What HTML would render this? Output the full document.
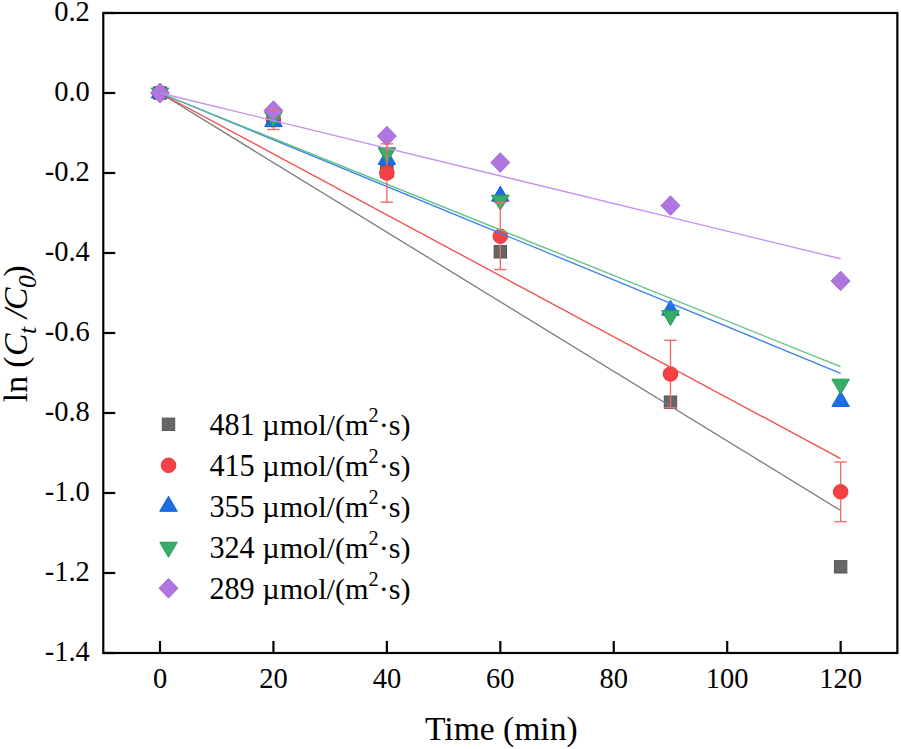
<!DOCTYPE html>
<html><head><meta charset="utf-8"><style>
html,body{margin:0;padding:0;background:#fff;}
svg{display:block;}
text{font-family:"Liberation Serif",serif;fill:#000;}
.tk{font-size:28.5px;}
.lg{font-size:30.2px;}
.ti{font-size:33.6px;}
</style></head><body>
<svg width="901" height="749" viewBox="0 0 901 749">
<rect width="901" height="749" fill="#fff"/>
<rect x="153.80" y="86.80" width="12.40" height="12.40" fill="#666666" stroke="#555555" stroke-width="1.0"/>
<rect x="267.24" y="112.80" width="12.40" height="12.40" fill="#666666" stroke="#555555" stroke-width="1.0"/>
<rect x="380.68" y="165.40" width="12.40" height="12.40" fill="#666666" stroke="#555555" stroke-width="1.0"/>
<rect x="494.12" y="245.60" width="12.40" height="12.40" fill="#666666" stroke="#555555" stroke-width="1.0"/>
<rect x="664.28" y="396.00" width="12.40" height="12.40" fill="#666666" stroke="#555555" stroke-width="1.0"/>
<rect x="834.44" y="560.60" width="12.40" height="12.40" fill="#666666" stroke="#555555" stroke-width="1.0"/>
<circle cx="160.00" cy="93.00" r="7.3" fill="#F24246" stroke="#EE3338" stroke-width="1.0"/>
<circle cx="273.44" cy="119.76" r="7.3" fill="#F24246" stroke="#EE3338" stroke-width="1.0"/>
<circle cx="386.88" cy="173.00" r="7.3" fill="#F24246" stroke="#EE3338" stroke-width="1.0"/>
<circle cx="500.32" cy="236.20" r="7.3" fill="#F24246" stroke="#EE3338" stroke-width="1.0"/>
<circle cx="670.48" cy="374.00" r="7.3" fill="#F24246" stroke="#EE3338" stroke-width="1.0"/>
<circle cx="840.64" cy="491.80" r="7.3" fill="#F24246" stroke="#EE3338" stroke-width="1.0"/>
<polygon points="160.00,83.00 168.75,98.00 151.25,98.00" fill="#1E6EE1" stroke="#0A60E0" stroke-width="1.0" stroke-linejoin="miter"/>
<polygon points="273.44,111.60 282.19,126.60 264.69,126.60" fill="#1E6EE1" stroke="#0A60E0" stroke-width="1.0" stroke-linejoin="miter"/>
<polygon points="386.88,149.40 395.63,164.40 378.13,164.40" fill="#1E6EE1" stroke="#0A60E0" stroke-width="1.0" stroke-linejoin="miter"/>
<polygon points="500.32,186.20 509.07,201.20 491.57,201.20" fill="#1E6EE1" stroke="#0A60E0" stroke-width="1.0" stroke-linejoin="miter"/>
<polygon points="670.48,300.20 679.23,315.20 661.73,315.20" fill="#1E6EE1" stroke="#0A60E0" stroke-width="1.0" stroke-linejoin="miter"/>
<polygon points="840.64,391.40 849.39,406.40 831.89,406.40" fill="#1E6EE1" stroke="#0A60E0" stroke-width="1.0" stroke-linejoin="miter"/>
<polygon points="160.00,103.00 168.75,88.00 151.25,88.00" fill="#3AAC6A" stroke="#18A052" stroke-width="1.0"/>
<polygon points="273.44,127.00 282.19,112.00 264.69,112.00" fill="#3AAC6A" stroke="#18A052" stroke-width="1.0"/>
<polygon points="386.88,162.80 395.63,147.80 378.13,147.80" fill="#3AAC6A" stroke="#18A052" stroke-width="1.0"/>
<polygon points="500.32,210.20 509.07,195.20 491.57,195.20" fill="#3AAC6A" stroke="#18A052" stroke-width="1.0"/>
<polygon points="670.48,325.60 679.23,310.60 661.73,310.60" fill="#3AAC6A" stroke="#18A052" stroke-width="1.0"/>
<polygon points="840.64,394.20 849.39,379.20 831.89,379.20" fill="#3AAC6A" stroke="#18A052" stroke-width="1.0"/>
<polygon points="160.00,83.25 169.50,93.00 160.00,102.75 150.50,93.00" fill="#AE76DE" stroke="#A566DC" stroke-width="1.0"/>
<polygon points="273.44,100.85 282.94,110.60 273.44,120.35 263.94,110.60" fill="#AE76DE" stroke="#A566DC" stroke-width="1.0"/>
<polygon points="386.88,126.37 396.38,136.12 386.88,145.87 377.38,136.12" fill="#AE76DE" stroke="#A566DC" stroke-width="1.0"/>
<polygon points="500.32,152.77 509.82,162.52 500.32,172.27 490.82,162.52" fill="#AE76DE" stroke="#A566DC" stroke-width="1.0"/>
<polygon points="670.48,195.85 679.98,205.60 670.48,215.35 660.98,205.60" fill="#AE76DE" stroke="#A566DC" stroke-width="1.0"/>
<polygon points="840.64,271.17 850.14,280.92 840.64,290.67 831.14,280.92" fill="#AE76DE" stroke="#A566DC" stroke-width="1.0"/>
<line x1="160.00" y1="93.00" x2="840.64" y2="510.50" stroke="#7a7a7a" stroke-width="1.3"/>
<line x1="160.00" y1="93.00" x2="840.64" y2="458.60" stroke="#F24A4A" stroke-width="1.3"/>
<line x1="160.00" y1="93.00" x2="840.64" y2="373.40" stroke="#3C82EE" stroke-width="1.3"/>
<line x1="160.00" y1="93.00" x2="840.64" y2="366.70" stroke="#5CC080" stroke-width="1.3"/>
<line x1="160.00" y1="93.00" x2="840.64" y2="258.75" stroke="#C490F0" stroke-width="1.3"/>
<line x1="273.44" y1="110.00" x2="273.44" y2="112.11" stroke="#F36A6A" stroke-width="1.4"/>
<line x1="273.44" y1="127.41" x2="273.44" y2="129.52" stroke="#F36A6A" stroke-width="1.4"/>
<line x1="267.24" y1="110.00" x2="279.64" y2="110.00" stroke="#F36A6A" stroke-width="1.4"/>
<line x1="267.24" y1="129.52" x2="279.64" y2="129.52" stroke="#F36A6A" stroke-width="1.4"/>
<line x1="386.88" y1="143.84" x2="386.88" y2="165.35" stroke="#F36A6A" stroke-width="1.4"/>
<line x1="386.88" y1="180.65" x2="386.88" y2="202.16" stroke="#F36A6A" stroke-width="1.4"/>
<line x1="380.68" y1="143.84" x2="393.08" y2="143.84" stroke="#F36A6A" stroke-width="1.4"/>
<line x1="380.68" y1="202.16" x2="393.08" y2="202.16" stroke="#F36A6A" stroke-width="1.4"/>
<line x1="500.32" y1="202.80" x2="500.32" y2="228.55" stroke="#F36A6A" stroke-width="1.4"/>
<line x1="500.32" y1="243.85" x2="500.32" y2="269.60" stroke="#F36A6A" stroke-width="1.4"/>
<line x1="494.12" y1="202.80" x2="506.52" y2="202.80" stroke="#F36A6A" stroke-width="1.4"/>
<line x1="494.12" y1="269.60" x2="506.52" y2="269.60" stroke="#F36A6A" stroke-width="1.4"/>
<line x1="670.48" y1="340.32" x2="670.48" y2="366.35" stroke="#F36A6A" stroke-width="1.4"/>
<line x1="670.48" y1="381.65" x2="670.48" y2="407.68" stroke="#F36A6A" stroke-width="1.4"/>
<line x1="664.28" y1="340.32" x2="676.68" y2="340.32" stroke="#F36A6A" stroke-width="1.4"/>
<line x1="664.28" y1="407.68" x2="676.68" y2="407.68" stroke="#F36A6A" stroke-width="1.4"/>
<line x1="840.64" y1="462.00" x2="840.64" y2="484.15" stroke="#F36A6A" stroke-width="1.4"/>
<line x1="840.64" y1="499.45" x2="840.64" y2="521.60" stroke="#F36A6A" stroke-width="1.4"/>
<line x1="834.44" y1="462.00" x2="846.84" y2="462.00" stroke="#F36A6A" stroke-width="1.4"/>
<line x1="834.44" y1="521.60" x2="846.84" y2="521.60" stroke="#F36A6A" stroke-width="1.4"/>
<rect x="103.28" y="13.00" width="794.08" height="640.00" fill="none" stroke="#000" stroke-width="2.2"/>
<line x1="160.00" y1="653.00" x2="160.00" y2="641.00" stroke="#000" stroke-width="2.2"/>
<text x="160.00" y="688.20" text-anchor="middle" class="tk">0</text>
<line x1="273.44" y1="653.00" x2="273.44" y2="641.00" stroke="#000" stroke-width="2.2"/>
<text x="273.44" y="688.20" text-anchor="middle" class="tk">20</text>
<line x1="386.88" y1="653.00" x2="386.88" y2="641.00" stroke="#000" stroke-width="2.2"/>
<text x="386.88" y="688.20" text-anchor="middle" class="tk">40</text>
<line x1="500.32" y1="653.00" x2="500.32" y2="641.00" stroke="#000" stroke-width="2.2"/>
<text x="500.32" y="688.20" text-anchor="middle" class="tk">60</text>
<line x1="613.76" y1="653.00" x2="613.76" y2="641.00" stroke="#000" stroke-width="2.2"/>
<text x="613.76" y="688.20" text-anchor="middle" class="tk">80</text>
<line x1="727.20" y1="653.00" x2="727.20" y2="641.00" stroke="#000" stroke-width="2.2"/>
<text x="727.20" y="688.20" text-anchor="middle" class="tk">100</text>
<line x1="840.64" y1="653.00" x2="840.64" y2="641.00" stroke="#000" stroke-width="2.2"/>
<text x="840.64" y="688.20" text-anchor="middle" class="tk">120</text>
<line x1="103.28" y1="13.00" x2="115.28" y2="13.00" stroke="#000" stroke-width="2.2"/>
<text x="89.80" y="21.40" text-anchor="end" class="tk">0.2</text>
<line x1="103.28" y1="93.00" x2="115.28" y2="93.00" stroke="#000" stroke-width="2.2"/>
<text x="89.80" y="101.40" text-anchor="end" class="tk">0.0</text>
<line x1="103.28" y1="173.00" x2="115.28" y2="173.00" stroke="#000" stroke-width="2.2"/>
<text x="89.80" y="181.40" text-anchor="end" class="tk">-0.2</text>
<line x1="103.28" y1="253.00" x2="115.28" y2="253.00" stroke="#000" stroke-width="2.2"/>
<text x="89.80" y="261.40" text-anchor="end" class="tk">-0.4</text>
<line x1="103.28" y1="333.00" x2="115.28" y2="333.00" stroke="#000" stroke-width="2.2"/>
<text x="89.80" y="341.40" text-anchor="end" class="tk">-0.6</text>
<line x1="103.28" y1="413.00" x2="115.28" y2="413.00" stroke="#000" stroke-width="2.2"/>
<text x="89.80" y="421.40" text-anchor="end" class="tk">-0.8</text>
<line x1="103.28" y1="493.00" x2="115.28" y2="493.00" stroke="#000" stroke-width="2.2"/>
<text x="89.80" y="501.40" text-anchor="end" class="tk">-1.0</text>
<line x1="103.28" y1="573.00" x2="115.28" y2="573.00" stroke="#000" stroke-width="2.2"/>
<text x="89.80" y="581.40" text-anchor="end" class="tk">-1.2</text>
<line x1="103.28" y1="653.00" x2="115.28" y2="653.00" stroke="#000" stroke-width="2.2"/>
<text x="89.80" y="661.40" text-anchor="end" class="tk">-1.4</text>
<rect x="162.30" y="418.10" width="12.40" height="12.40" fill="#666666" stroke="#555555" stroke-width="1.0"/>
<text transform="translate(209.4,434.80) scale(1,1.04)" x="0" y="0" class="lg">481</text>
<text x="262.25" y="434.80" class="lg">µmol/(m<tspan dy="-12.5" font-size="20.2">2</tspan><tspan dy="12.5">·s)</tspan></text>
<circle cx="168.50" cy="465.30" r="7.3" fill="#F24246" stroke="#EE3338" stroke-width="1.0"/>
<text transform="translate(209.4,475.80) scale(1,1.04)" x="0" y="0" class="lg">415</text>
<text x="262.25" y="475.80" class="lg">µmol/(m<tspan dy="-12.5" font-size="20.2">2</tspan><tspan dy="12.5">·s)</tspan></text>
<polygon points="168.50,496.30 177.25,511.30 159.75,511.30" fill="#1E6EE1" stroke="#0A60E0" stroke-width="1.0" stroke-linejoin="miter"/>
<text transform="translate(209.4,516.80) scale(1,1.04)" x="0" y="0" class="lg">355</text>
<text x="262.25" y="516.80" class="lg">µmol/(m<tspan dy="-12.5" font-size="20.2">2</tspan><tspan dy="12.5">·s)</tspan></text>
<polygon points="168.50,557.30 177.25,542.30 159.75,542.30" fill="#3AAC6A" stroke="#18A052" stroke-width="1.0"/>
<text transform="translate(209.4,557.80) scale(1,1.04)" x="0" y="0" class="lg">324</text>
<text x="262.25" y="557.80" class="lg">µmol/(m<tspan dy="-12.5" font-size="20.2">2</tspan><tspan dy="12.5">·s)</tspan></text>
<polygon points="168.50,578.55 178.00,588.30 168.50,598.05 159.00,588.30" fill="#AE76DE" stroke="#A566DC" stroke-width="1.0"/>
<text transform="translate(209.4,598.80) scale(1,1.04)" x="0" y="0" class="lg">289</text>
<text x="262.25" y="598.80" class="lg">µmol/(m<tspan dy="-12.5" font-size="20.2">2</tspan><tspan dy="12.5">·s)</tspan></text>
<text x="501.32" y="739.6" text-anchor="middle" class="ti">Time (min)</text>
<g transform="translate(26.6,402.2) rotate(-90)" class="ti"><text x="0" y="0">ln (</text><text x="46.27" y="0" font-style="italic">C</text><text x="68.2" y="9" font-style="italic" font-size="25.5">t</text><text x="84.0" y="0" font-style="italic">/</text><text x="92.1" y="0" font-style="italic">C</text><text x="114.3" y="9" font-style="italic" font-size="25.5">0</text><text x="125.8" y="0">)</text></g>
</svg>
</body></html>
